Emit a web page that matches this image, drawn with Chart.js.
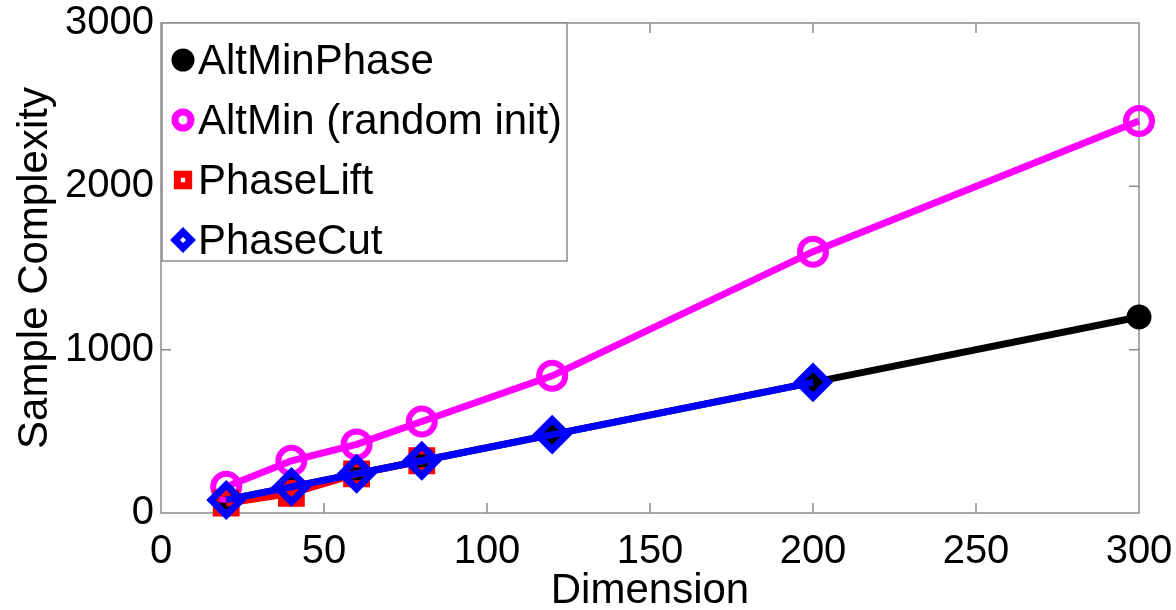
<!DOCTYPE html>
<html>
<head>
<meta charset="utf-8">
<script src="https://cdn.jsdelivr.net/npm/chart.js@4.4.1/dist/chart.umd.min.js"></script>
<style>
  html, body { margin: 0; padding: 0; background: #fff; }
  #wrap { width: 1176px; height: 610px; }
</style>
</head>
<body>
<div id="wrap"><canvas id="grafik" width="1176" height="610"></canvas></div>
<script>
const dims = [20, 40, 60, 80, 120, 200, 300];
const altMinPhase = [80, 160, 240, 320, 480, 800, 1200];
const altMinRandom = [160, 320, 420, 560, 840, 1600, 2400];
const phaseLift = [60, 120, 240, 320];
const phaseCut = [80, 160, 240, 320, 480, 800];

const xTicks = [0, 50, 100, 150, 200, 250, 300];
const yTicks = [0, 1000, 2000, 3000];

const fontName = "'Liberation Sans', Arial, Helvetica, sans-serif";
const fontSize = 42;
const tickSize = 40;

function toPoints(vals) {
    return vals.map((v, i) => ({ x: dims[i], y: v }));
}

// kotak sumbu + tick ke dalam (gaya matlab)
const framePlugin = {
    id: "frame",
    beforeDatasetsDraw(chart) {
        const { ctx, chartArea: a, scales } = chart;
        ctx.save();
        ctx.strokeStyle = "#8c8c8c";
        ctx.lineWidth = 1.5;
        ctx.strokeRect(a.left, a.top, a.right - a.left, a.bottom - a.top);
        ctx.beginPath();
        xTicks.slice(1, -1).forEach(t => {
            const px = scales.x.getPixelForValue(t);
            ctx.moveTo(px, a.bottom); ctx.lineTo(px, a.bottom - 10);
            ctx.moveTo(px, a.top); ctx.lineTo(px, a.top + 10);
        });
        yTicks.slice(1, -1).forEach(t => {
            const py = scales.y.getPixelForValue(t);
            ctx.moveTo(a.left, py); ctx.lineTo(a.left + 10, py);
            ctx.moveTo(a.right, py); ctx.lineTo(a.right - 10, py);
        });
        ctx.stroke();
        ctx.restore();
    }
};

// legenda kotak di pojok kiri atas
const legendPlugin = {
    id: "kotakLegenda",
    afterDraw(chart) {
        const { ctx, chartArea: a } = chart;
        const left = a.left + 1, top = a.top;
        const w = 405, rowH = 60;
        const h = rowH * chart.data.datasets.length - 2;
        ctx.save();
        ctx.fillStyle = "#fff";
        ctx.fillRect(left, top, w, h);
        ctx.strokeStyle = "#8c8c8c";
        ctx.lineWidth = 1.5;
        ctx.strokeRect(left, top, w, h);
        ctx.font = fontSize + "px " + fontName;
        ctx.textBaseline = "middle";
        chart.data.datasets.forEach((ds, i) => {
            const cy = top + 37 + i * rowH;
            const mx = left + 21;
            ctx.fillStyle = ds.legendFill;
            ctx.strokeStyle = ds.borderColor;
            ctx.lineWidth = 7;
            Chart.helpers.drawPoint(ctx, {
                pointStyle: ds.pointStyle,
                radius: 8,
                borderWidth: 7,
                rotation: 0
            }, mx, cy);
            ctx.fillStyle = "#000";
            ctx.fillText(ds.label, left + 36, cy + 2);
        });
        ctx.restore();
    }
};

new Chart(document.getElementById("grafik"), {
    type: "line",
    data: {
        datasets: [
            {
                label: "AltMinPhase",
                data: toPoints(altMinPhase),
                borderColor: "#000",
                backgroundColor: "#000",
                legendFill: "#000",
                pointStyle: "circle",
                pointRadius: 11,
                pointBorderWidth: 3,
                borderWidth: 7,
                order: 4
            },
            {
                label: "AltMin (random init)",
                data: toPoints(altMinRandom),
                borderColor: "#ff00ff",
                backgroundColor: "rgba(0,0,0,0)",
                legendFill: "rgba(0,0,0,0)",
                pointStyle: "circle",
                pointRadius: 13,
                pointBorderWidth: 6,
                borderWidth: 7,
                order: 3
            },
            {
                label: "PhaseLift",
                data: toPoints(phaseLift),
                borderColor: "#ff0000",
                backgroundColor: "rgba(0,0,0,0)",
                legendFill: "rgba(0,0,0,0)",
                pointStyle: "rect",
                pointRadius: 14,
                pointBorderWidth: 7,
                borderWidth: 7,
                order: 2
            },
            {
                label: "PhaseCut",
                data: toPoints(phaseCut),
                borderColor: "#0000ff",
                backgroundColor: "rgba(0,0,0,0)",
                legendFill: "rgba(0,0,0,0)",
                pointStyle: "rectRot",
                pointRadius: 15,
                pointBorderWidth: 7,
                borderWidth: 7,
                order: 1
            }
        ]
    },
    options: {
        responsive: false,
        animation: false,
        layout: { padding: { left: 0, right: 37, top: 23, bottom: 0 } },
        elements: { line: { tension: 0 } },
        datasets: { line: { clip: false } },
        plugins: {
            legend: { display: false },
            tooltip: { enabled: false }
        },
        scales: {
            x: {
                type: "linear",
                min: 0,
                max: 300,
                afterBuildTicks: s => { s.ticks = xTicks.map(v => ({ value: v })); },
                afterFit: s => { s.height = 97; s.paddingLeft = 0; s.paddingRight = 0; },
                grid: { display: false, drawTicks: false },
                border: { display: false },
                ticks: {
                    color: "#000",
                    font: { size: tickSize, family: fontName },
                    padding: 15,
                    maxRotation: 0,
                    callback: v => String(v)
                },
                title: {
                    display: true,
                    text: "Dimension",
                    color: "#000",
                    font: { size: fontSize, family: fontName },
                    padding: { top: 0, bottom: -7 }
                }
            },
            y: {
                min: 0,
                max: 3000,
                afterBuildTicks: s => { s.ticks = yTicks.map(v => ({ value: v })); },
                afterFit: s => { s.width = 161; s.paddingTop = 0; s.paddingBottom = 0; },
                grid: { display: false, drawTicks: false },
                border: { display: false },
                ticks: {
                    color: "#000",
                    font: { size: tickSize, family: fontName },
                    padding: 7,
                    callback: v => String(v)
                },
                title: {
                    display: true,
                    text: "Sample Complexity",
                    color: "#000",
                    font: { size: fontSize, family: fontName },
                    padding: { top: 10, bottom: 0 }
                }
            }
        }
    },
    plugins: [framePlugin, legendPlugin]
});
</script>
</body>
</html>
